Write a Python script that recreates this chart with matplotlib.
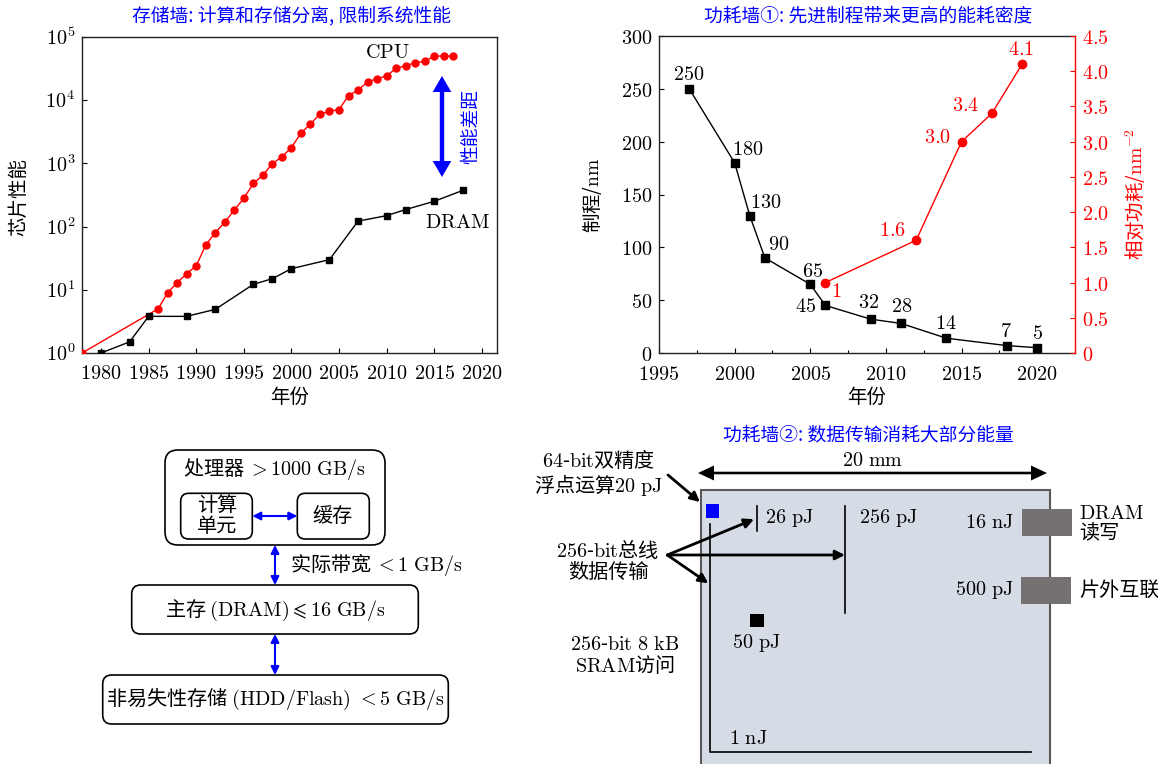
import numpy as np
import matplotlib
matplotlib.use('Agg')
import matplotlib.pyplot as plt
from matplotlib.patches import FancyBboxPatch, Rectangle, Polygon
from matplotlib.ticker import FixedLocator, FuncFormatter, NullLocator

plt.rcParams['font.family'] = ['Noto Sans CJK SC', 'DejaVu Sans']
plt.rcParams['mathtext.fontset'] = 'cm'
plt.rcParams['axes.unicode_minus'] = False

# ---------------- data: panel 1 (memory wall) ----------------
cpu_years = [1978, 1986, 1987, 1988, 1989, 1990, 1991, 1992, 1993, 1994, 1995,
             1996, 1997, 1998, 1999, 2000, 2001, 2002, 2003, 2004, 2005, 2006,
             2007, 2008, 2009, 2010, 2011, 2012, 2013, 2014, 2015, 2016, 2017]
cpu_perf = [1, 5, 9, 13, 18, 24, 51, 80, 117, 183, 280,
            481, 649, 993, 1267, 1779, 3016, 4195, 6043, 6681, 7108, 11865,
            14387, 19484, 21871, 24129, 31999, 34967, 39419, 40967, 49935, 49935, 49935]
dram_years = [1980, 1983, 1985, 1989, 1992, 1996, 1998, 2000, 2004, 2007, 2010, 2012, 2015, 2018]
dram_perf = [1.0, 1.5, 3.8, 3.8, 4.9, 12.2, 15, 21.6, 30, 122, 149, 186, 251, 374]
year_ticks1 = [1980, 1985, 1990, 1995, 2000, 2005, 2010, 2015, 2020]
log_ticks = [1, 10, 100, 1000, 10000, 100000]

# ---------------- data: panel 2 (power wall 1) ----------------
node_years = [1997, 2000, 2001, 2002, 2005, 2006, 2009, 2011, 2014, 2018, 2020]
node_nm = [250, 180, 130, 90, 65, 45, 32, 28, 14, 7, 5]
power_years = [2006, 2012, 2015, 2017, 2019]
power_rel = [1.0, 1.6, 3.0, 3.4, 4.1]
power_labels = ['1', '1.6', '3.0', '3.4', '4.1']
year_ticks2 = [1995, 2000, 2005, 2010, 2015, 2020]
year_minor2 = [1997.5, 2002.5, 2007.5, 2012.5, 2017.5, 2022.5]
nm_ticks = [0, 50, 100, 150, 200, 250, 300]
rel_ticks = [0, 0.5, 1.0, 1.5, 2.0, 2.5, 3.0, 3.5, 4.0, 4.5]

# label offsets (pixels) for point annotations
node_offs = [(-0.75, 14), (12.75, 13.7), (15.75, 13.3), (13.9, 13.3), (1.9, 13.3),
             (-20.25, -1), (-1.9, 16.7), (1.1, 16.7), (-1.1, 15), (-0.75, 14.3), (0.75, 14.3)]
power_offs = [(10.5, -9), (-23.6, 10), (-23.6, 4), (-26.25, 7.7), (-0.75, 14.7)]

BLUE = '#0000ff'
RED = '#ff0000'
FS = 14.5


def M(s):
    return r'$\mathrm{' + s.replace(' ', r'\ ') + '}$'


W, H = 1158, 764
fig = plt.figure(figsize=(W / 100, H / 100), dpi=100)

# ---------------- panel 1 ----------------
ax1 = fig.add_axes([82 / W, (H - 353) / H, 415 / W, 316 / H])
ax1.semilogy(cpu_years, cpu_perf, '-o', color=RED, ms=5, lw=1, zorder=3)
ax1.semilogy(dram_years, dram_perf, '-s', color='black', ms=5, lw=1, zorder=4)
ax1.set_xlim(1978, 2021.6)
ax1.set_ylim(1, 1e5)
ax1.xaxis.set_major_locator(FixedLocator(year_ticks1))
ax1.xaxis.set_major_formatter(FuncFormatter(lambda v, p: f'${v:.0f}$'))
ax1.xaxis.set_minor_locator(NullLocator())
ax1.yaxis.set_major_locator(FixedLocator(log_ticks))
ax1.yaxis.set_major_formatter(FuncFormatter(lambda v, p: '$10^{%d}$' % int(round(np.log10(v)))))
ax1.yaxis.set_minor_locator(NullLocator())
ax1.tick_params(direction='in', length=3.5, width=0.8, labelsize=FS, pad=5)
ax1.tick_params(axis='x', pad=7)
for s in ax1.spines.values():
    s.set_linewidth(1.0)
    s.set_color('#222222')

# ---------------- panel 2 ----------------
ax2 = fig.add_axes([659 / W, (H - 353) / H, 416 / W, 317 / H])
ax2.plot(node_years, node_nm, '-s', color='black', ms=5.5, lw=1, zorder=3)
ax2.set_xlim(1995, 2022.5)
ax2.set_ylim(0, 300)
ax2.xaxis.set_major_locator(FixedLocator(year_ticks2))
ax2.xaxis.set_minor_locator(FixedLocator(year_minor2))
ax2.xaxis.set_major_formatter(FuncFormatter(lambda v, p: f'${v:.0f}$'))
ax2.yaxis.set_major_locator(FixedLocator(nm_ticks))
ax2.yaxis.set_major_formatter(FuncFormatter(lambda v, p: f'${v:.0f}$'))
ax2.tick_params(which='major', direction='in', length=3.5, width=0.8, labelsize=FS, pad=5)
ax2.tick_params(axis='x', which='major', pad=8)
ax2.tick_params(which='minor', direction='in', length=2.5, width=0.8)
ax2.spines['right'].set_visible(False)
for k in ['left', 'top', 'bottom']:
    ax2.spines[k].set_linewidth(1.0)
    ax2.spines[k].set_color('#222222')
for x, y, (dx, dy) in zip(node_years, node_nm, node_offs):
    ax2.annotate(f'${y}$', (x, y), xytext=(dx * 0.72, dy * 0.72), textcoords='offset points',
                 ha='center', va='center', fontsize=FS)

ax3 = ax2.twinx()
ax3.plot(power_years, power_rel, '-o', color=RED, ms=6, lw=1, zorder=3)
ax3.set_ylim(0, 4.5)
ax3.yaxis.set_major_locator(FixedLocator(rel_ticks))
ax3.yaxis.set_major_formatter(FuncFormatter(lambda v, p: '$0$' if v == 0 else f'${v:.1f}$'))
ax3.tick_params(axis='y', direction='in', length=3.5, width=0.8, labelsize=FS, pad=5,
                colors=RED)
ax3.spines['right'].set_color(RED)
ax3.spines['right'].set_linewidth(1.0)
for k in ['left', 'top', 'bottom']:
    ax3.spines[k].set_visible(False)
for x, y, lab, (dx, dy) in zip(power_years, power_rel, power_labels, power_offs):
    ax3.annotate(f'${lab}$', (x, y), xytext=(dx * 0.72, dy * 0.72), textcoords='offset points',
                 ha='center', va='center', fontsize=FS, color=RED)

# ---------------- overlay (pixel coordinates) ----------------
ov = fig.add_axes([0, 0, 1, 1], zorder=10)
ov.set_xlim(0, W)
ov.set_ylim(H, 0)
ov.axis('off')
ov.patch.set_alpha(0)


def T(x, y, s, fs=FS, **kw):
    kw.setdefault('ha', 'center')
    kw.setdefault('va', 'center')
    ov.text(x, y, s, fontsize=fs, **kw)


def double_arrow_v(x, y1, y2, hl, hw, sw, color):
    pts = [(x, y1), (x + hw, y1 + hl), (x + sw, y1 + hl), (x + sw, y2 - hl), (x + hw, y2 - hl),
           (x, y2), (x - hw, y2 - hl), (x - sw, y2 - hl), (x - sw, y1 + hl), (x - hw, y1 + hl)]
    ov.add_patch(Polygon(pts, closed=True, facecolor=color, edgecolor='none'))


def double_arrow_h(y, x1, x2, hl, hw, sw, color):
    pts = [(x1, y), (x1 + hl, y - hw), (x1 + hl, y - sw), (x2 - hl, y - sw), (x2 - hl, y - hw),
           (x2, y), (x2 - hl, y + hw), (x2 - hl, y + sw), (x1 + hl, y + sw), (x1 + hl, y + hw)]
    ov.add_patch(Polygon(pts, closed=True, facecolor=color, edgecolor='none'))


def arrow(x1, y1, x2, y2, color='k', lw=2.0, ms=14, style='-|>'):
    ov.annotate('', xy=(x2, y2), xytext=(x1, y1),
                arrowprops=dict(arrowstyle=style, color=color, lw=lw, mutation_scale=ms,
                                shrinkA=0, shrinkB=0))


# panel 1 texts
T(292, 16, '存储墙: 计算和存储分离, 限制系统性能', fs=13.5, color=BLUE)
T(18.5, 197, '芯片性能', fs=14, rotation=90)
T(290, 397, '年份', fs=14)
T(387, 53, M('CPU'))
T(458, 222, M('DRAM'))
double_arrow_v(442, 76, 177, 16, 9.3, 2.2, BLUE)
T(471, 127, '性能差距', fs=13.5, rotation=90, color=BLUE)

# panel 2 texts
T(868, 16, '功耗墙①: 先进制程带来更高的能耗密度', fs=13.5, color=BLUE)
T(592.5, 195, '制程/' + M('nm'), fs=14, rotation=90)
T(1136, 194, r'相对功耗/$\mathrm{nm}^{-2}$', fs=14, rotation=90, color=RED)
T(867, 397, '年份', fs=14)

# panel 3: memory hierarchy diagram
def rbox(x1, y1, x2, y2, r):
    ov.add_patch(FancyBboxPatch((x1, y1), x2 - x1, y2 - y1,
                                boxstyle=f'round,pad=0,rounding_size={r}',
                                facecolor='white', edgecolor='black', lw=1.2))


rbox(165, 450, 385, 545, 13)
rbox(180.7, 493.3, 252.3, 539, 8)
rbox(297.3, 493.3, 369.3, 539, 8)
rbox(131.7, 585, 418.3, 634, 9)
rbox(102.7, 675, 448.3, 724, 9)
T(275, 469, '处理器 ' + r'$>\mathrm{1000\ GB/s}$')
T(217, 516, '计算\n单元', linespacing=0.95)
T(333, 516, '缓存')
T(290, 565, '实际带宽 ' + r'$<\mathrm{1\ GB/s}$', ha='left')
T(275, 610, '主存 ' + r'$\mathrm{(DRAM)}\leqslant\mathrm{16\ GB/s}$')
T(275, 699, '非易失性存储 ' + r'$\mathrm{(HDD/Flash)}\ <\mathrm{5\ GB/s}$')
arrow(252.3, 516, 297.3, 516, color=BLUE, lw=1.5, ms=12, style='<|-|>')
arrow(275, 545, 275, 585, color=BLUE, lw=1.5, ms=12, style='<|-|>')
arrow(275, 634, 275, 675, color=BLUE, lw=1.5, ms=12, style='<|-|>')

# panel 4: data movement energy
T(868, 435, '功耗墙②: 数据传输消耗大部分能量', fs=13.5, color=BLUE)
T(873, 460, M('20 mm'))
double_arrow_h(473, 698, 1047, 16, 7.5, 1.3, 'black')
ov.add_patch(Rectangle((701, 490), 348.6, 290, facecolor='#d6dce5', edgecolor='#595959', lw=1.5))
ov.add_patch(Rectangle((705.7, 504), 13.3, 13.7, facecolor=BLUE, edgecolor='none'))
ov.add_patch(Rectangle((750, 614), 14, 13, facecolor='black', edgecolor='none'))
ov.add_patch(Rectangle((1022, 509), 50, 27, facecolor='#767171', edgecolor='none'))
ov.add_patch(Rectangle((1021, 577), 50, 27, facecolor='#767171', edgecolor='none'))
ov.plot([757, 757], [506, 531], color='black', lw=1.2)
ov.plot([845.3, 845.3], [506, 613], color='black', lw=1.2)
ov.plot([710, 710, 1031], [524, 751.5, 751.5], color='black', lw=1.2)
T(765, 518, M('26 pJ'), ha='left')
T(859, 518, M('256 pJ'), ha='left')
T(1014, 523, M('16 nJ'), ha='right')
T(1014, 590, M('500 pJ'), ha='right')
T(1079, 524, M('DRAM') + '\n读写', ha='left', linespacing=0.95)
T(1079, 590, '片外互联', ha='left')
T(756, 643, M('50 pJ'))
T(729, 738, M('1 nJ'), ha='left')
T(599, 473.5, M('64') + '-' + M('bit') + '双精度\n' + '浮点运算' + M('20 pJ'), linespacing=1.0)
T(608, 560.5, M('256') + '-' + M('bit') + '总线\n数据传输', linespacing=1.0)
T(625, 655.5, M('256') + '-' + M('bit 8 kB') + '\n' + M('SRAM') + '访问', linespacing=1.0)
arrow(668, 475, 700, 502)
arrow(667.3, 555, 754, 519.3)
arrow(667.3, 555, 845, 555)
arrow(667.3, 555, 708.3, 583.3)

fig.savefig('out.png', dpi=100)
